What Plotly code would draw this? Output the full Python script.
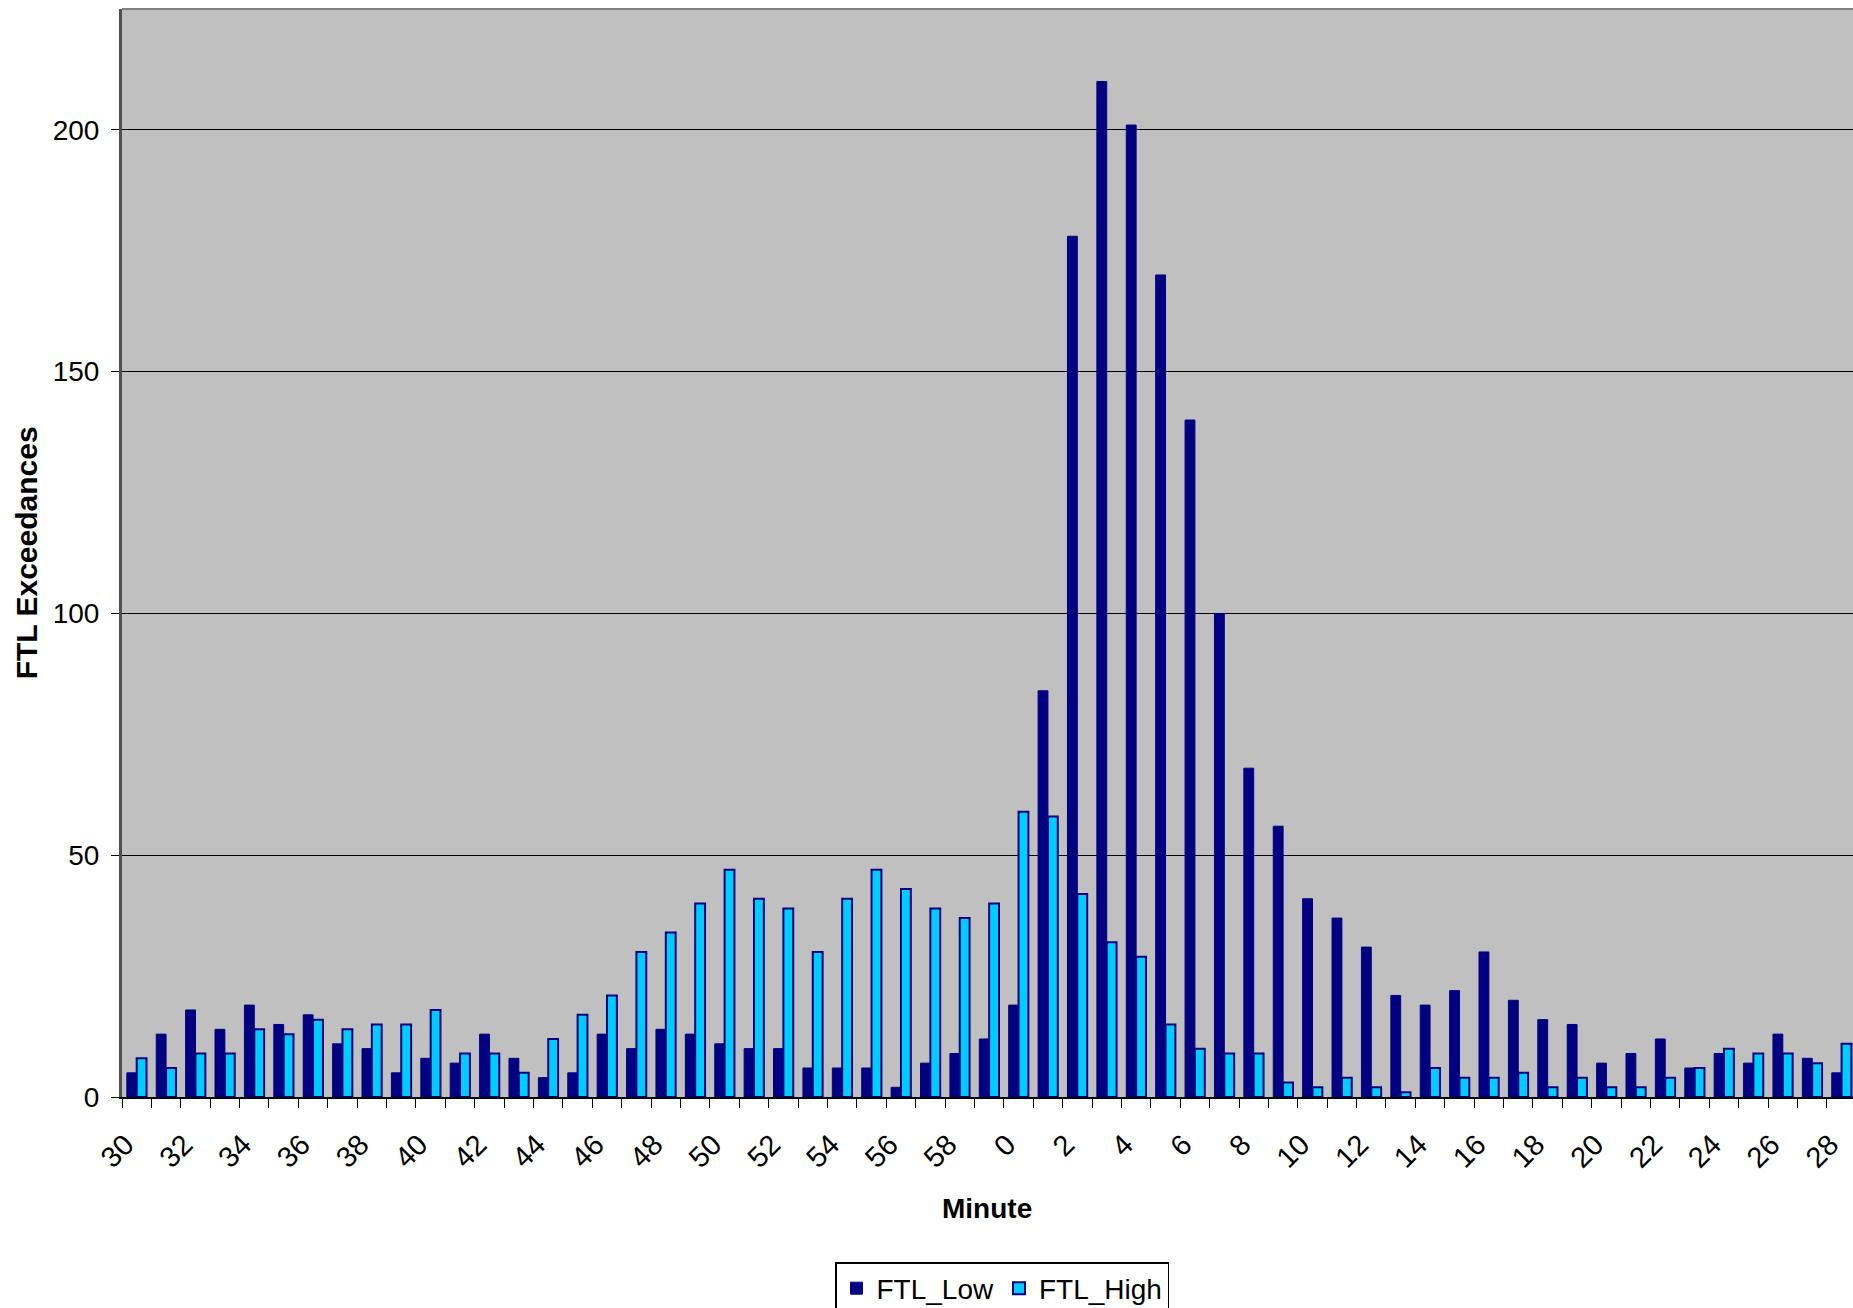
import plotly.graph_objects as go

# Minute of the hour (x categories), as shown on the chart
categories = ["30", "31", "32", "33", "34", "35", "36", "37", "38", "39",
              "40", "41", "42", "43", "44", "45", "46", "47", "48", "49",
              "50", "51", "52", "53", "54", "55", "56", "57", "58", "59",
              "0", "1", "2", "3", "4", "5", "6", "7", "8", "9",
              "10", "11", "12", "13", "14", "15", "16", "17", "18", "19",
              "20", "21", "22", "23", "24", "25", "26", "27", "28"]

ftl_low = [5, 13, 18, 14, 19, 15, 17, 11, 10, 5,
           8, 7, 13, 8, 4, 5, 13, 10, 14, 13,
           11, 10, 10, 6, 6, 6, 2, 7, 9, 12,
           19, 84, 178, 210, 201, 170, 140, 100, 68, 56,
           41, 37, 31, 21, 19, 22, 30, 20, 16, 15,
           7, 9, 12, 6, 9, 7, 13, 8, 5]

ftl_high = [8, 6, 9, 9, 14, 13, 16, 14, 15, 15,
            18, 9, 9, 5, 12, 17, 21, 30, 34, 40,
            47, 41, 39, 30, 41, 47, 43, 39, 37, 40,
            59, 58, 42, 32, 29, 15, 10, 9, 9, 3,
            2, 4, 2, 1, 6, 4, 4, 5, 2, 4,
            2, 2, 4, 6, 10, 9, 9, 7, 11]

y_ticks = [0, 50, 100, 150, 200]

pos = list(range(len(categories)))

W, H = 1853, 1308
L, T, B = 121.7, 9.0, 1097.0
plot_w = W - L
plot_h = B - T

FONT = "Liberation Sans, Arial, sans-serif"
NAVY = "#000080"
CYAN = "#00CCFF"

fig = go.Figure()
fig.add_trace(go.Bar(x=pos, y=ftl_low, name="FTL_Low",
                     marker=dict(color=NAVY, line=dict(color=NAVY, width=1))))
fig.add_trace(go.Bar(x=pos, y=ftl_high, name="FTL_High",
                     marker=dict(color=CYAN, line=dict(color=NAVY, width=2))))

# visible right edge cuts the chart at the window edge
x_right = (W - L) / 29.4 - 0.5

# rotated labels sit slightly left of the category centre, as in the original
x_labels = [c + "\u00a0\u00a0" for c in categories[::2]]

fig.update_layout(
    width=W, height=H,
    margin=dict(l=L, r=0, t=T, b=H - B, pad=0, autoexpand=False),
    paper_bgcolor="white",
    plot_bgcolor="#C0C0C0",
    barmode="group",
    bargap=0.33,
    bargroupgap=0.0,
    font=dict(family=FONT, size=28, color="black"),
    showlegend=True,
    legend=dict(orientation="h",
                xref="container", yref="container",
                x=835 / W, xanchor="left",
                y=1 - 1262 / H, yanchor="top",
                bordercolor="black", borderwidth=1.5,
                font=dict(family=FONT, size=28, color="black"),
                itemwidth=30, tracegroupgap=0,
                traceorder="normal"),
    xaxis=dict(
        range=[-0.5, x_right],
        tickmode="array",
        tickvals=pos[::2],
        ticktext=x_labels,
        tickangle=-45,
        ticks="outside", ticklen=0, tickcolor="black",
        tickfont=dict(family=FONT, size=29, color="black"),
        ticklabelstandoff=6,
        ticklabeloverflow="allow",
        showgrid=False,
        zeroline=False,
        showline=True, linecolor="black", linewidth=1.5,
        minor=dict(tickmode="linear", tick0=-0.5, dtick=1, ticks="outside",
                   ticklen=9, tickcolor="black", tickwidth=1.3, showgrid=False),
        fixedrange=True,
    ),
    yaxis=dict(
        range=[0, 225],
        tickmode="array",
        tickvals=y_ticks,
        ticktext=[str(v) for v in y_ticks],
        ticks="outside", ticklen=8, tickcolor="black", tickwidth=1.3,
        tickfont=dict(family=FONT, size=28, color="black"),
        ticklabelstandoff=6,
        showgrid=True, gridcolor="black", gridwidth=1,
        zeroline=False,
        showline=True, linecolor="#505050", linewidth=3,
        fixedrange=True,
    ),
    annotations=[
        dict(text="<b>Minute</b>", xref="paper", yref="paper",
             x=(987 - L) / plot_w, y=(B - 1208) / plot_h,
             xanchor="center", yanchor="middle", showarrow=False,
             font=dict(family=FONT, size=28, color="black")),
        dict(text="<b>FTL Exceedances</b>", xref="paper", yref="paper",
             x=(26 - L) / plot_w, y=0.5, textangle=-90,
             xanchor="center", yanchor="middle", showarrow=False,
             font=dict(family=FONT, size=30, color="black")),
    ],
    shapes=[
        dict(type="line", xref="paper", yref="paper", x0=0, x1=1, y0=1, y1=1,
             line=dict(color="#808080", width=2)),
    ],
)

fig.write_html("out.html", config={"displayModeBar": False},
               post_script="document.body.style.margin='0';document.body.style.overflow='hidden';")
